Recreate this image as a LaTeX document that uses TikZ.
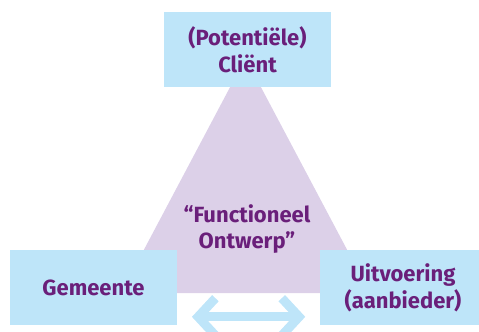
\documentclass[tikz,border=0pt]{standalone}
\usepackage{fontspec}
\setmainfont{Fira Sans}
\usetikzlibrary{arrows.meta,positioning}

\definecolor{boxblue}{HTML}{BEE5F9}
\definecolor{trilila}{HTML}{DCD0E8}
\definecolor{textpaars}{HTML}{6A1F7A}

\begin{document}
\begin{tikzpicture}[
  x=0.75pt, y=-0.75pt,
  block/.style={fill=boxblue, rectangle, minimum width=125.25pt, minimum height=56.25pt,
    inner sep=0pt, align=center, font=\fontsize{16.5}{20}\selectfont\bfseries, text=textpaars},
  label/.style={align=center, font=\fontsize{16.5}{20}\selectfont\bfseries, text=textpaars},
  arr/.style={draw=boxblue, line width=6.75pt, line cap=butt,
    {Straight Barb[length=13pt, width=28pt]}-{Straight Barb[length=13pt, width=28pt]}}
]
  \useasboundingbox (0,0) rectangle (479,332);
  \clip (0,0) rectangle (479,332);

  % driehoek achter de blokken
  \fill[trilila] (245.5,58) -- (121,293) -- (370,293) -- cycle;
  \node[label] (ontwerp) at (247,229) {“Functioneel\\Ontwerp”};

  \node[block] (client) at (247.5,49.5) {(Potentiële)\\Cliënt};
  \node[block] (gemeente) at (93.5,287.5) {Gemeente};
  \node[block, right=106.5pt of gemeente] (uitvoering) {Uitvoering\\(aanbieder)};

  \draw[arr, shorten <=11pt, shorten >=10.5pt]
    ([yshift=-22pt]gemeente.east) -- ([yshift=-22pt]uitvoering.west);
\end{tikzpicture}
\end{document}
